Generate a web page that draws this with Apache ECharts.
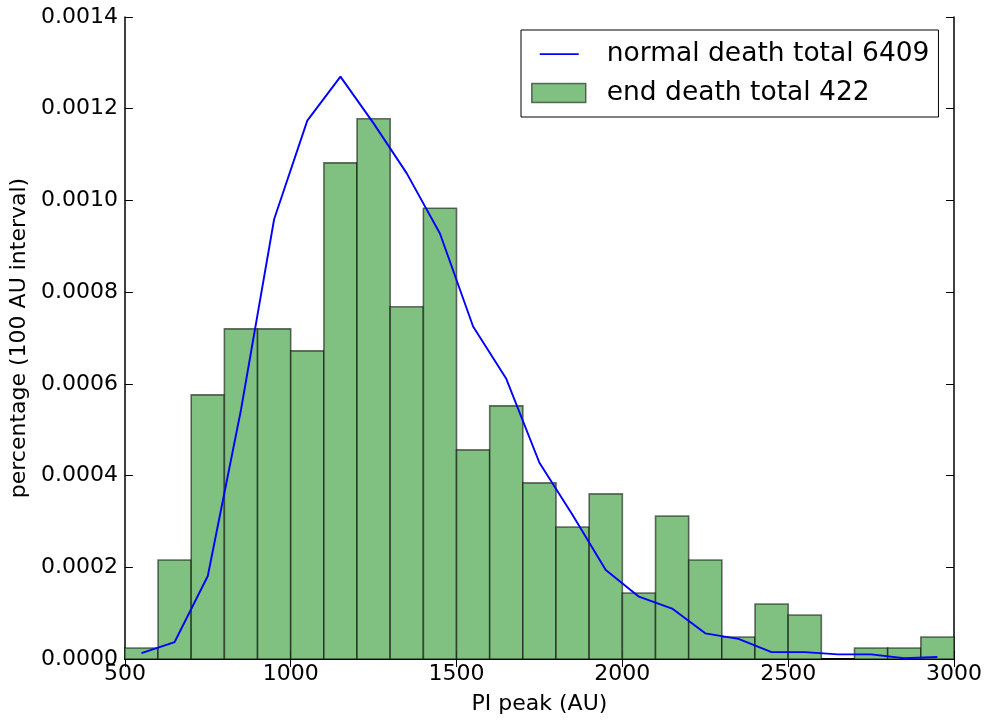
<!DOCTYPE html>
<html>
<head>
<meta charset="utf-8">
<script src="https://cdn.jsdelivr.net/npm/echarts@6/dist/echarts.min.js"></script>
<style>
html,body{margin:0;padding:0;background:#fff;}
#chart{width:986px;height:722px;}
</style>
</head>
<body>
<div id="chart"></div>
<script>
// Histogram bins (left edges, AU), 100 AU wide
var binLeft = [500,600,700,800,900,1000,1100,1200,1300,1400,1500,1600,1700,1800,1900,2000,2100,2200,2300,2400,2500,2600,2700,2800,2900];
var binWidth = 100;
var endDeath = [0.000024,0.000216,0.000576,0.000720,0.000720,0.000672,0.001082,0.001178,0.000768,0.000983,0.000456,0.000552,0.000384,0.000288,0.000360,0.000144,0.000312,0.000216,0.000048,0.000120,0.000096,0,0.000024,0.000024,0.000048];
// Normal death curve (bin centres, AU)
var normalX = [550,650,750,850,950,1050,1150,1250,1350,1450,1550,1650,1750,1850,1950,2050,2150,2250,2350,2450,2550,2650,2750,2850,2950];
var normalDeath = [0.000013,0.000037,0.000181,0.000543,0.000959,0.001174,0.001270,0.001168,0.001059,0.000928,0.000725,0.000611,0.000428,0.000314,0.000194,0.000136,0.000110,0.000056,0.000044,0.000015,0.000015,0.000010,0.000010,0.0000015,0.0000044];
var xTicks = {min:500, max:3000, interval:500};
var yTicks = {min:0, max:0.0014, interval:0.0002};
var nameNormal = 'normal death total 6409';
var nameEnd = 'end death total 422';
var xTitle = 'PI peak (AU)';
var yTitle = 'percentage (100 AU interval)';

var FONT = 'DejaVu Sans';
var chart = echarts.init(document.getElementById('chart'), null, {renderer:'canvas'});

var barData = binLeft.map(function(b,i){ return [b, b+binWidth, endDeath[i]]; });
var lineData = normalX.map(function(x,i){ return [x, normalDeath[i]]; });

var axisLine = {show:true, lineStyle:{color:'#000', width:1.5}};
var tickIn = {show:true, inside:true, length:8, lineStyle:{color:'#000', width:1}};

var option = {
  backgroundColor:'#fff',
  animation:false,
  grid:{left:124, right:32, top:17, bottom:63, show:false},
  legend:{
    orient:'vertical', left:521, top:30,
    padding:[9,9,9,10],
    itemGap:9,
    itemWidth:54, itemHeight:19,
    borderColor:'#000', borderWidth:1, backgroundColor:'#fff',
    textStyle:{fontFamily:FONT, fontSize:26.5, color:'#000', padding:[0,0,0,16], lineHeight:30},
    data:[
      {name:nameNormal, icon:'path://M0,0 M8,8.8 L47,8.8 L47,10.4 L8,10.4 Z M54,19',
       itemStyle:{color:'#0000ff', borderWidth:0}},
      {name:nameEnd, icon:'rect', itemStyle:{color:'#80c080', borderColor:'rgba(0,0,0,0.55)', borderWidth:1.5}}
    ]
  },
  xAxis:[
    {type:'value', position:'bottom', min:xTicks.min, max:xTicks.max, interval:xTicks.interval,
     axisLine:axisLine, axisTick:tickIn, splitLine:{show:false},
     axisLabel:{fontFamily:FONT, fontSize:22, color:'#000', margin:4,
       formatter:function(v){ return String(v); }},
     name:xTitle, nameLocation:'middle', nameGap:34,
     nameTextStyle:{fontFamily:FONT, fontSize:22, color:'#000'}},
    {type:'value', position:'top', min:xTicks.min, max:xTicks.max, interval:xTicks.interval,
     axisLine:axisLine, axisTick:tickIn, splitLine:{show:false}, axisLabel:{show:false}}
  ],
  yAxis:[
    {type:'value', position:'left', min:yTicks.min, max:yTicks.max, interval:yTicks.interval,
     axisLine:axisLine, axisTick:tickIn, splitLine:{show:false},
     axisLabel:{fontFamily:FONT, fontSize:22, color:'#000', margin:7,
       formatter:function(v){ return (Math.round(v*1e4)/1e4).toFixed(4); }},
     name:yTitle, nameLocation:'middle', nameGap:92, nameRotate:90,
     nameTextStyle:{fontFamily:FONT, fontSize:22, color:'#000'}},
    {type:'value', position:'right', min:yTicks.min, max:yTicks.max, interval:yTicks.interval,
     axisLine:axisLine, axisTick:tickIn, splitLine:{show:false}, axisLabel:{show:false}}
  ],
  series:[
    {
      name:nameEnd, type:'custom', xAxisIndex:0, yAxisIndex:0, z:2,
      itemStyle:{color:'#80c080', borderColor:'rgba(0,0,0,0.55)', borderWidth:1.6},
      renderItem:function(params, api){
        var p0 = api.coord([api.value(0), api.value(2)]);
        var p1 = api.coord([api.value(1), 0]);
        return {
          type:'rect',
          shape:{x:p0[0], y:p0[1], width:p1[0]-p0[0], height:p1[1]-p0[1]},
          style:{fill:'#80c080', stroke:'rgba(0,0,0,0.55)', lineWidth:1.6}
        };
      },
      encode:{x:[0,1], y:2},
      data:barData
    },
    {
      name:nameNormal, type:'line', xAxisIndex:0, yAxisIndex:0, z:5,
      symbol:'none', smooth:false,
      lineStyle:{color:'#0000ff', width:1.9},
      itemStyle:{color:'#0000ff'},
      data:lineData
    }
  ]
};
chart.setOption(option);
</script>
</body>
</html>
